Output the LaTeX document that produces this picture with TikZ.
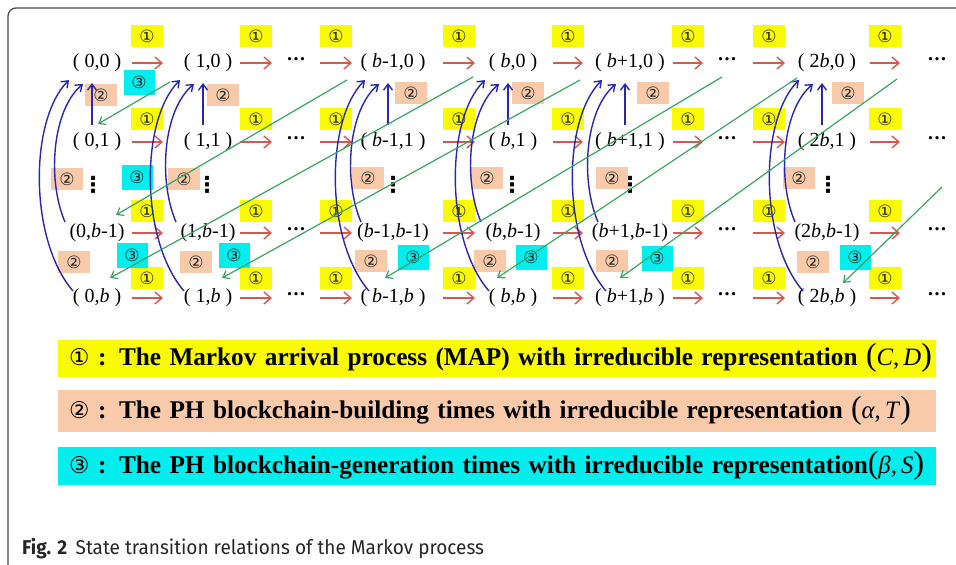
\documentclass[tikz,border=0pt]{standalone}
\usepackage{fontspec}
\setmainfont{Liberation Serif}
\newfontfamily\circfont{DejaVu Sans}
\newfontfamily\capfont{Fira Sans}
\usepackage{graphicx}
\usepackage{xcolor}
\usetikzlibrary{arrows.meta, positioning, calc}

\definecolor{markyel}{RGB}{250,250,0}
\definecolor{buildorg}{RGB}{248,202,170}
\definecolor{gencyan}{RGB}{0,238,238}
\definecolor{arrred}{RGB}{214,88,78}
\definecolor{arrblue}{RGB}{40,40,175}
\definecolor{arrgreen}{RGB}{55,165,95}
\definecolor{framegray}{RGB}{70,70,70}

\newcommand{\reppair}[2]{{\mdseries\fontsize{32}{32}\selectfont(\fontsize{25}{28}\selectfont\textit{#1},\,\textit{#2}\fontsize{32}{32}\selectfont)}}
\newcommand{\legnum}[1]{{\mdseries\circfont\fontsize{23}{23}\selectfont #1}}
\newcommand{\rowdots}{\raisebox{8pt}{\textbf{.\kern1.5pt.\kern1.5pt.}}}
\newcommand{\coldots}{{\circfont\bfseries\fontsize{22}{22}\selectfont ⋮}}

\tikzset{
  state/.style={inner sep=0pt, font=\fontsize{20}{24}\selectfont},
  hdots/.style={inner sep=0pt, font=\fontsize{20}{24}\selectfont},
  ctag/.style={inner sep=0pt, minimum width=32pt, minimum height=22pt, font=\circfont\fontsize{17}{17}\selectfont, text=black!85},
  arrtag/.style={ctag, fill=markyel},
  bldtag/.style={ctag, fill=buildorg},
  gentag/.style={ctag, fill=gencyan, minimum width=31pt, minimum height=25pt},
  redarr/.style={arrred, line width=1.4pt, -{Straight Barb[length=7pt,width=12pt]}},
  bluearr/.style={arrblue, line width=1.4pt, -{Straight Barb[length=6pt,width=9pt]}},
  greenarr/.style={arrgreen, line width=1.2pt, -{Straight Barb[length=6pt,width=9pt]}},
  cutends/.style 2 args={shorten <=#1pt, shorten >=#2pt},
  legbox/.style={anchor=west, inner xsep=11pt, inner ysep=0pt, minimum height=37pt, text width=856pt, align=left, font=\bfseries\fontsize{25.5}{28}\selectfont},
}

\begin{document}
\begin{tikzpicture}[x=1pt,y=-1pt]
\useasboundingbox (0,0) rectangle (956,565);
% frame
\draw[framegray, line width=1.2pt, rounded corners=8pt] (960,8) -- (8,8) -- (8,570);

% states (i,j)
\foreach \y/\r/\pre/\suf in {63/0/{(\ }/{,0\ )}, 142/1/{(\ }/{,1\ )}, 233/m/{(}/{,\textit{b}-1)}, 298/b/{(\ }/{,\textit{b}\ )}}
  \foreach \x/\c/\t in {97/0/0, 208/1/1, 393/bm/{\textit{b}-1}, 513/b/{\textit{b}}, 630/bp/{\textit{b}+1}, 827/tb/{2\textit{b}}}
    \node[state] (s\c-\r) at (\x,\y) {\pre\t\suf};

% dots in each row
\foreach \y/\r in {63/0, 142/1, 233/m, 298/b}{
  \node[hdots] (d1-\r) at (296,\y) {\rowdots};
  \node[hdots] (d2-\r) at (727,\y) {\rowdots};
  \node[hdots] (d3-\r) at (937,\y) {\rowdots};
}
\foreach \x in {93,207,393,512,630,828}
  \node[hdots] (vd-\x) at (\x,185) {\coldots};

% tags 1, 2, 3
\foreach \r/\y in {0/36, 1/119, m/211, b/278}
  \foreach \x [count=\i] in {147,256,336,459,568,688,769,885}
    \node[arrtag] (one-\r-\i) at (\x,\y) {①};
\foreach \x/\y [count=\i] in {101/95, 223/95, 411/93, 528/93, 653/93, 848/93,
    67/179, 184/179, 368/178, 487/178, 612/178, 799/178,
    74/262, 196/262, 371/261, 490/261, 612/261, 813/262}
  \node[bldtag] (two-\i) at (\x,\y) {②};
\foreach \x/\y [count=\i] in {139/82, 137/177, 132/255, 234/255, 413/257, 531/257, 657/258, 855/257}
  \node[gentag] (three-\i) at (\x,\y) {③};

% arrivals
\foreach \r in {0,1,m,b}
  \foreach \fa/\fb/\p/\q in {s0/s1/35/45, s1/d1/32/24, d1/sbm/24/41, sbm/sb/50/38,
      sb/sbp/40/47, sbp/d2/43/24, d2/stb/26/42, stb/d3/43/37}
    \draw[redarr, cutends={\p}{\q}] (\fa-\r.center) -- (\fb-\r.center);

% back to row 0
\foreach \c in {0,1,bm,b,bp,tb}{
  \draw[bluearr] ([shift={(-5,-17)}]s\c-1.center) -- ([shift={(-5,20)}]s\c-0.center);
  \draw[bluearr] ([shift={(-32,-11)}]s\c-m.center) .. controls +(-18,-42) and +(-31,26) .. ([shift={(-14,21)}]s\c-0.center);
  \draw[bluearr] ([shift={(-24,-7)}]s\c-b.center) .. controls +(-44,-51) and +(-40,40) .. ([shift={(-28,17)}]s\c-0.center);
}

% block transitions
\coordinate (gfar) at (942,187);
\foreach \fa/\ax/\ay/\fb/\bx/\by in {s1-0/-38/19/s0-1/1/-18, sbm-0/-46/17/s0-m/19/-18,
    sb-0/-40/14/s0-b/13/-20, sbp-0/-50/17/s1-b/14/-20, d2-0/-5/14/sbm-b/-8/-20,
    stb-0/-30/15/sb-b/-16/-20, d3-0/-40/16/sbp-b/-10/-20}
  \draw[greenarr] ([shift={(\ax,\ay)}]\fa.center) -- ([shift={(\bx,\by)}]\fb.center);
\draw[greenarr] (gfar) -- ([shift={(16,-15)}]stb-b.center);

% legend
\node[legbox, fill=markyel] (leg-map) at (58,358) {\scalebox{0.99}[1]{\legnum{①} : The Markov arrival process (MAP) with irreducible representation \reppair{C}{D}}};
\node[legbox, fill=buildorg, minimum height=42pt] (leg-bld) at (58,411) {\scalebox{0.99}[1]{\legnum{②} : The PH blockchain-building times with irreducible representation \reppair{α}{T}}};
\node[legbox, fill=gencyan, minimum height=38pt] (leg-gen) at (58,466) {\scalebox{0.99}[1]{\legnum{③} : The PH blockchain-generation times with irreducible representation\reppair{β}{S}}};

% caption
\node[anchor=base west, inner sep=0pt, text=black!85, font=\capfont\fontsize{20}{24}\selectfont] (cap) at (22,554) {\scalebox{0.95}[1]{\textbf{Fig. 2}\hspace{9pt}State transition relations of the Markov process}};
\end{tikzpicture}
\end{document}
